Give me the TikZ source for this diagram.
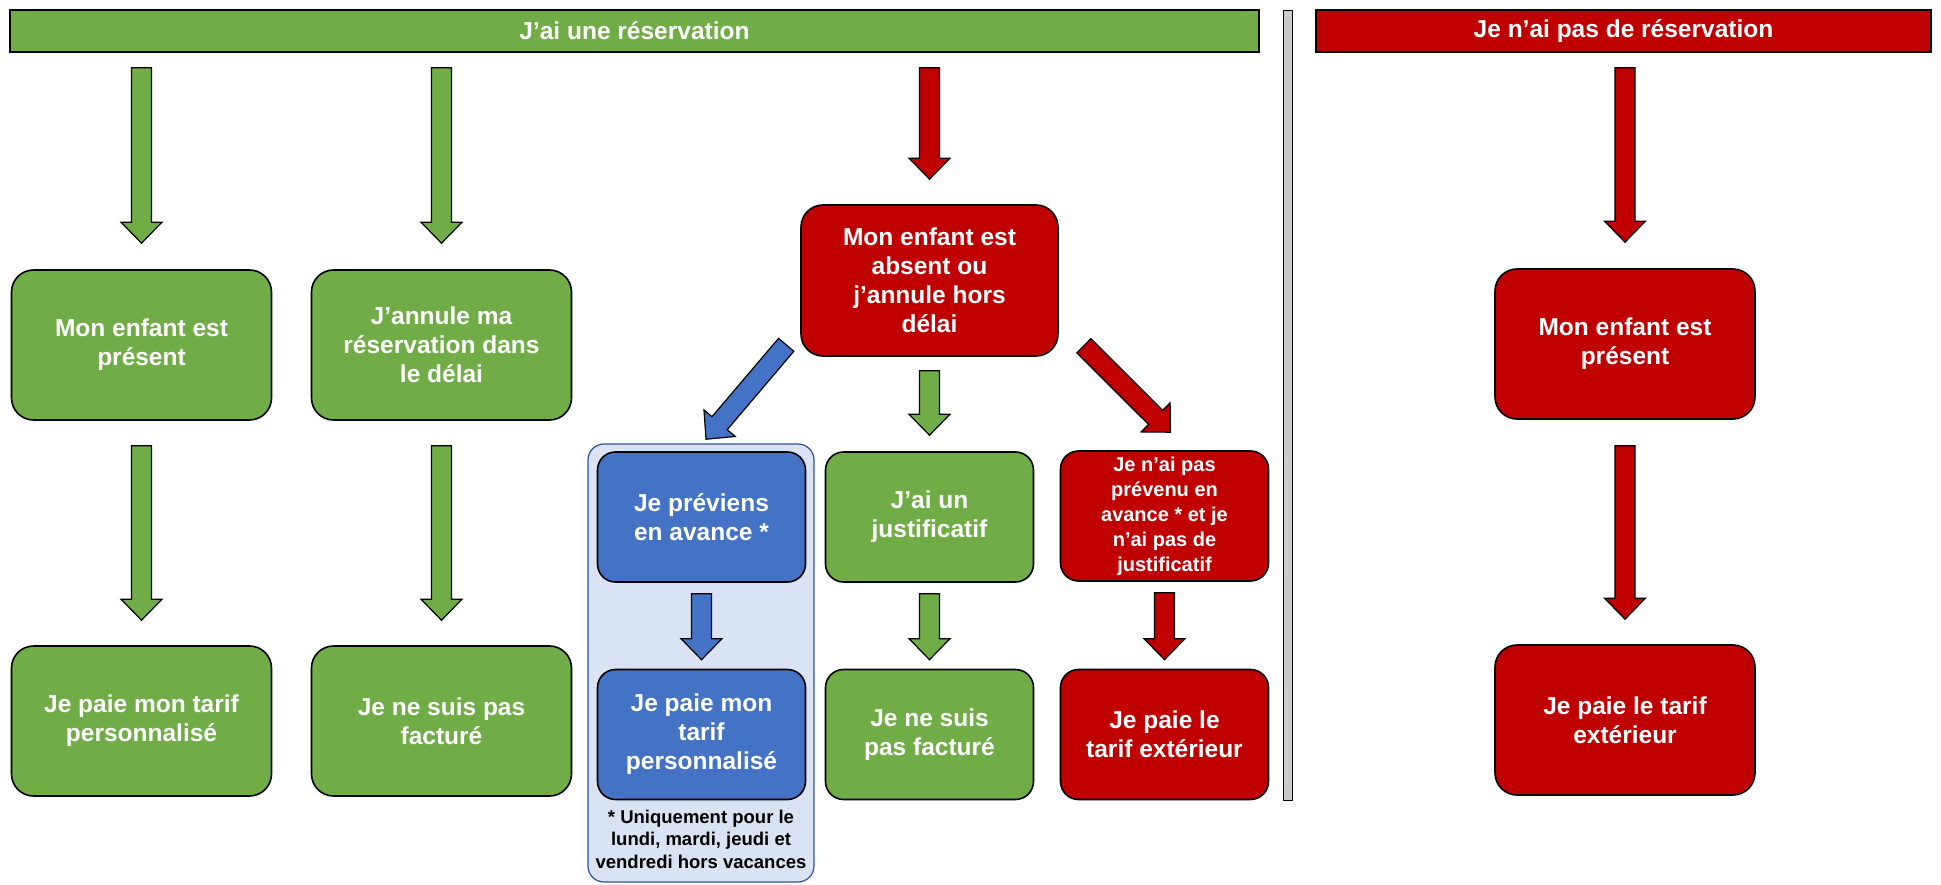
\documentclass[tikz,border=0pt]{standalone}
\usepackage{fontspec}
\setmainfont{Liberation Sans}
\usetikzlibrary{calc}

\definecolor{vert}{HTML}{70AD47}
\definecolor{rouge}{HTML}{C00000}
\definecolor{bleu}{HTML}{4472C4}
\definecolor{bleuclair}{HTML}{DAE3F3}
\definecolor{bleufonce}{HTML}{2F5597}

\tikzset{
   bloc/.style={draw=black, line width=1.2pt, line join=miter, fill=#1,
      to path={($(\tikztostart)!10pt!90:(\tikztotarget)$)
         -- ($(\tikztotarget)!21pt!(\tikztostart)!10pt!90:(\tikztotarget)$)
         -- ($(\tikztotarget)!21pt!(\tikztostart)!20.5pt!90:(\tikztotarget)$)
         -- (\tikztotarget)
         -- ($(\tikztotarget)!21pt!(\tikztostart)!20.5pt!-90:(\tikztotarget)$)
         -- ($(\tikztotarget)!21pt!(\tikztostart)!10pt!-90:(\tikztotarget)$)
         -- ($(\tikztostart)!10pt!-90:(\tikztotarget)$) -- cycle}},
}

\begin{document}
\begin{tikzpicture}[x=1pt, y=-1pt,
      case/.style={draw=black, line width=1.6pt, rounded corners=22pt, text=white, align=center,
         inner sep=0pt, minimum width=260pt, minimum height=150pt,
         font=\fontsize{24.5}{29}\selectfont\bfseries},
      petit/.style={case, rounded corners=18pt, minimum width=208pt, minimum height=130pt},
      bandeau/.style={draw=black, line width=1.6pt, text=white, inner sep=0pt, minimum height=42pt,
         font=\fontsize{24.5}{29}\selectfont\bfseries}]

      \useasboundingbox (0,0) rectangle (1941,885);

      \begin{scope}[name prefix = top-]
         \node[bandeau, fill=vert, minimum width=1249pt] (oui) at (634.5, 31) {J’ai une réservation};
         \node[bandeau, fill=rouge, minimum width=615pt] (non) at (1623.5, 31) {Je n’ai pas de réservation};
      \end{scope}

      % separation + cadre bleu
      \node[draw=black, line width=0.8pt, fill=gray!40, inner sep=0pt, minimum width=9pt, minimum height=790pt] (sep) at (1287.5, 405) {};
      \node[draw=bleufonce, line width=1.2pt, fill=bleuclair, rounded corners=16pt, inner sep=0pt,
         minimum width=226pt, minimum height=438pt] (cadre) at (701, 663) {};

      \begin{scope}[name prefix = cas-]
         \node[case, fill=vert] (present) at (141.5, 345) {Mon enfant est\\présent};
         \node[case, fill=vert] (annule) at (441.5, 345) {J’annule ma\\réservation dans\\le délai};
         \node[case, fill=rouge, minimum width=257pt, minimum height=151pt] (absent) at (929.5, 280.5) {Mon enfant est\\absent ou\\j’annule hors\\délai};
         \node[case, fill=rouge] (present2) at (1625, 344) {Mon enfant est\\présent};
      \end{scope}

      \begin{scope}[name prefix = detail-]
         \node[petit, fill=bleu] (previens) at (701.5, 517) {Je préviens\\en avance *};
         \node[petit, fill=vert] (justif) at (929.5, 517) {J’ai un\\justificatif};
         \node[petit, fill=rouge, font=\fontsize{20}{25}\selectfont\bfseries] (rien) at (1164.5, 516) {Je n’ai pas\\prévenu en\\avance * et je\\n’ai pas de\\justificatif};
      \end{scope}

      \begin{scope}[name prefix = tarif-]
         \node[case, fill=vert] (perso) at (141.5, 721) {Je paie mon tarif\\personnalisé};
         \node[case, fill=vert] (gratuit) at (441.5, 721) {Je ne suis pas\\facturé};
         \node[petit, fill=bleu] (perso2) at (701.5, 734.5) {Je paie mon\\tarif\\personnalisé};
         \node[petit, fill=vert] (gratuit2) at (929.5, 734.5) {Je ne suis\\pas facturé};
         \node[petit, fill=rouge] (ext) at (1164.5, 734.5) {Je paie le\\tarif extérieur};
         \node[case, fill=rouge] (ext2) at (1625, 720) {Je paie le tarif\\extérieur};
      \end{scope}

      \node[align=center, inner sep=0pt, font=\fontsize{18.5}{22.5}\selectfont\bfseries] (note) at (701, 839) {* Uniquement pour le\\lundi, mardi, jeudi et\\vendredi hors vacances};

      \begin{scope}
         \draw[bloc=vert] ($(top-oui.south -| cas-present)+(0pt,-15pt)$) to ([yshift=26pt]cas-present.north);
         \draw[bloc=vert] ($(top-oui.south -| cas-annule)+(0pt,-15pt)$) to ([yshift=26pt]cas-annule.north);
         \draw[bloc=rouge] ($(top-oui.south -| cas-absent)+(0pt,-15pt)$) to ([yshift=25pt]cas-absent.north);
         \draw[bloc=rouge] ($(top-non.south -| cas-present2)+(0pt,-15pt)$) to ([yshift=26pt]cas-present2.north);
         \draw[bloc=vert] ([yshift=-25pt]cas-present.south) to ([yshift=25pt]tarif-perso.north);
         \draw[bloc=vert] ([yshift=-25pt]cas-annule.south) to ([yshift=25pt]tarif-gratuit.north);
         \draw[bloc=rouge] ([yshift=-26pt]cas-present2.south) to ([yshift=25pt]tarif-ext2.north);
         \draw[bloc=bleu] ([shift={(-14pt,12pt)}]cas-absent.south west) to ([shift={(4.5pt,12pt)}]detail-previens.north);
         \draw[bloc=vert] ([yshift=-14pt]cas-absent.south) to ([yshift=16pt]detail-justif.north);
         \draw[bloc=rouge] ([shift={(25pt,11pt)}]cas-absent.south east) to ([shift={(6pt,18pt)}]detail-rien.north);
         \draw[bloc=bleu] ([yshift=-11pt]detail-previens.south) to ([yshift=9pt]tarif-perso2.north);
         \draw[bloc=vert] ([yshift=-11pt]detail-justif.south) to ([yshift=9pt]tarif-gratuit2.north);
         \draw[bloc=rouge] ([yshift=-11pt]detail-rien.south) to ([yshift=9pt]tarif-ext.north);
      \end{scope}
   \end{tikzpicture}
\end{document}
